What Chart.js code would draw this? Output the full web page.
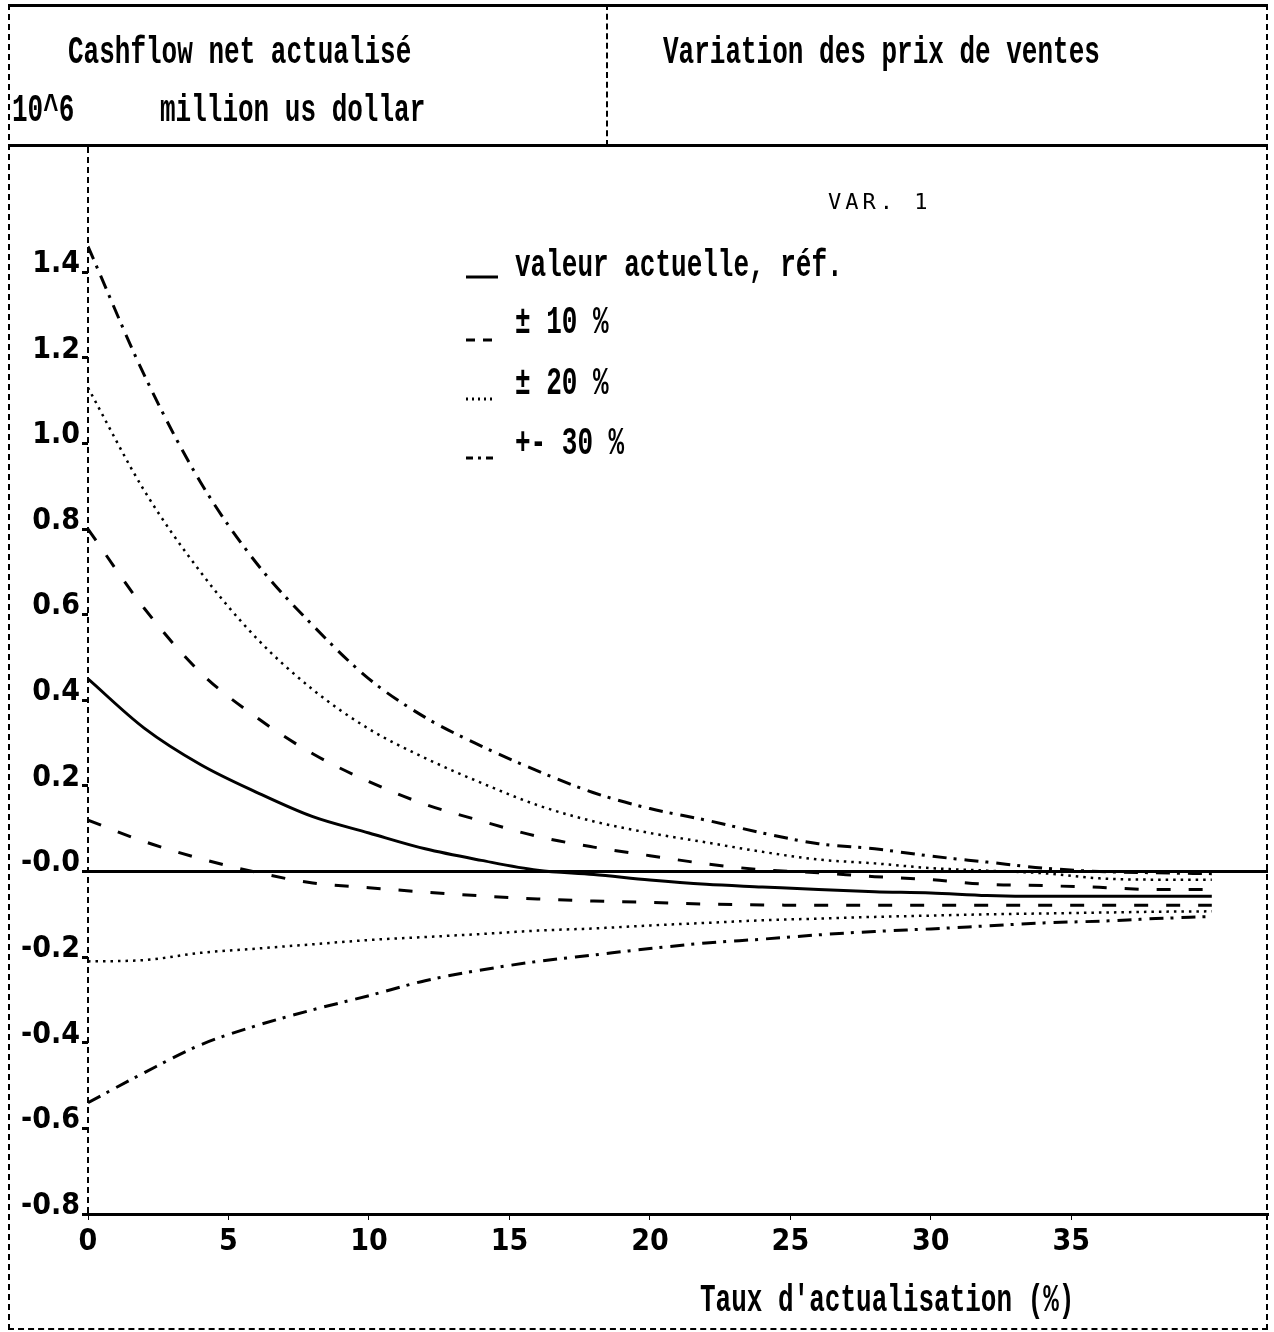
<!DOCTYPE html>
<html>
<head>
<meta charset="utf-8">
<script src="https://cdn.jsdelivr.net/npm/chart.js@4.4.1/dist/chart.umd.min.js"></script>
<style>
  body { margin: 0; background: #fff; }
  #wrap { position: relative; width: 1274px; height: 1332px; overflow: hidden; }
  #chart { position: absolute; left: 0; top: 0; }
  .ln { position: absolute; }
  .txt {
    position: absolute; white-space: pre; color: #000;
    font: bold 26px "Liberation Mono", "DejaVu Sans Mono", monospace;
    line-height: 26px; transform-origin: left center; transform: scaleY(1.5);
  }
  .sample { position: absolute; }
</style>
</head>
<body>
<div id="wrap">
  <canvas id="chart" width="1274" height="1332"></canvas>

  <!-- cadre -->
  <div class="ln" style="left:8px;top:4px;width:1260px;border-top:3px solid #000"></div>
  <div class="ln" style="left:8px;top:144px;width:1260px;border-top:3px solid #000"></div>
  <div class="ln" style="left:8px;top:4px;height:1326px;border-left:2px dashed #000"></div>
  <div class="ln" style="left:1266px;top:4px;height:1326px;border-left:2px dashed #000"></div>
  <div class="ln" style="left:606px;top:4px;height:142px;border-left:2px dashed #000"></div>
  <div class="ln" style="left:8px;top:1328px;width:1260px;border-top:2px dashed #000"></div>
  <!-- axe vertical en tirets -->
  <div class="ln" style="left:87px;top:147px;height:1066px;border-left:2px dashed #000"></div>

  <!-- en-tête -->
  <div class="txt" style="left:68px;top:39px">Cashflow net actualisé</div>
  <div class="txt" style="left:12px;top:97px">10^6</div>
  <div class="txt" style="left:160px;top:97px">million us dollar</div>
  <div class="txt" style="left:663px;top:39px">Variation des prix de ventes</div>

  <!-- légende -->
  <div class="txt" style="left:828px;top:189px;font:22px 'DejaVu Sans Mono',monospace;letter-spacing:4px;transform:none">VAR. 1</div>
  <svg class="sample" style="left:466px;top:266px" width="34" height="14"><line x1="0" y1="11" x2="32" y2="11" stroke="#000" stroke-width="3"/></svg>
  <div class="txt" style="left:515px;top:252px">valeur actuelle, réf.</div>
  <svg class="sample" style="left:466px;top:329px" width="34" height="14"><line x1="0" y1="11" x2="32" y2="11" stroke="#000" stroke-width="3" stroke-dasharray="9 8"/></svg>
  <div class="txt" style="left:515px;top:309px">± 10 %</div>
  <svg class="sample" style="left:466px;top:388px" width="34" height="14"><line x1="0" y1="11" x2="26" y2="11" stroke="#000" stroke-width="3" stroke-dasharray="2 4"/></svg>
  <div class="txt" style="left:515px;top:370px">± 20 %</div>
  <svg class="sample" style="left:466px;top:447px" width="34" height="14"><line x1="0" y1="11" x2="32" y2="11" stroke="#000" stroke-width="3" stroke-dasharray="7 5 3 5"/></svg>
  <div class="txt" style="left:515px;top:430px">+- 30 %</div>

  <!-- titre axe x -->
  <div class="txt" style="left:700px;top:1287px">Taux d'actualisation (%)</div>
</div>

<script>
// taux d'actualisation (%)
const rates = [0, 2, 4, 6, 8, 10, 12, 14, 16, 18, 20, 22, 24, 26, 28, 30, 32, 34, 36, 38, 40];

// cashflow net actualisé (10^6 us dollar)
const ref     = [0.45, 0.335, 0.25, 0.185, 0.128, 0.09, 0.053, 0.026, 0.003, -0.007, -0.02, -0.03, -0.036, -0.042, -0.047, -0.05, -0.056, -0.058, -0.058, -0.058, -0.058];
const plus10  = [0.8, 0.615, 0.465, 0.36, 0.275, 0.21, 0.157, 0.118, 0.082, 0.057, 0.037, 0.018, 0.004, -0.003, -0.012, -0.019, -0.03, -0.033, -0.037, -0.042, -0.042];
const minus10 = [0.12, 0.07, 0.03, -0.002, -0.027, -0.038, -0.048, -0.057, -0.064, -0.069, -0.072, -0.076, -0.078, -0.079, -0.079, -0.079, -0.079, -0.079, -0.079, -0.079, -0.079];
const plus20  = [1.13, 0.89, 0.70, 0.545, 0.425, 0.333, 0.265, 0.207, 0.155, 0.117, 0.09, 0.068, 0.046, 0.028, 0.019, 0.008, 0.002, -0.004, -0.016, -0.019, -0.019];
const minus20 = [-0.21, -0.207, -0.19, -0.18, -0.17, -0.16, -0.153, -0.146, -0.138, -0.133, -0.126, -0.12, -0.114, -0.11, -0.106, -0.103, -0.1, -0.098, -0.096, -0.094, -0.093];
const plus30  = [1.46, 1.16, 0.91, 0.72, 0.575, 0.45, 0.36, 0.293, 0.235, 0.184, 0.147, 0.12, 0.09, 0.065, 0.053, 0.036, 0.022, 0.008, 0.0, -0.003, -0.005];
const minus30 = [-0.54, -0.47, -0.405, -0.36, -0.323, -0.29, -0.255, -0.23, -0.21, -0.195, -0.18, -0.167, -0.158, -0.148, -0.14, -0.134, -0.127, -0.12, -0.116, -0.11, -0.105];

// graduations
const xTicks = [0, 5, 10, 15, 20, 25, 30, 35];
const yTicks = [-0.8, -0.6, -0.4, -0.2, 0, 0.2, 0.4, 0.6, 0.8, 1.0, 1.2, 1.4];

const tickFont = { family: "'Liberation Sans Narrow', 'DejaVu Sans Condensed', 'Liberation Mono', monospace", size: 30, weight: "bold" };

function serie(values, dash, width) {
    return {
        data: rates.map((r, i) => ({ x: r, y: values[i] })),
        borderColor: "#000",
        borderWidth: width,
        borderDash: dash,
        pointRadius: 0,
        fill: false,
        cubicInterpolationMode: "monotone"
    };
}

new Chart(document.getElementById("chart"), {
    type: "line",
    data: {
        datasets: [
            serie(ref, [], 3),
            serie(plus10, [14, 18], 3),
            serie(minus10, [14, 18], 3),
            serie(plus20, [2.5, 5], 2.5),
            serie(minus20, [2.5, 5], 2.5),
            serie(plus30, [14, 7, 3, 8], 3),
            serie(minus30, [14, 7, 3, 8], 3)
        ]
    },
    options: {
        responsive: false,
        animation: false,
        layout: { padding: { top: 148, right: 6, left: 0, bottom: 0 } },
        plugins: { legend: { display: false }, tooltip: { enabled: false } },
        scales: {
            x: {
                type: "linear",
                min: 0,
                max: 42,
                afterBuildTicks: s => { s.ticks = xTicks.map(v => ({ value: v })); },
                afterFit: s => { s.height = 118; },
                grid: { drawOnChartArea: false, color: "#000", tickLength: 6 },
                border: { color: "#000", width: 3 },
                ticks: { color: "#000", font: tickFont, padding: 4, maxRotation: 0 }
            },
            y: {
                min: -0.8,
                max: 1.69,
                afterBuildTicks: s => { s.ticks = yTicks.map(v => ({ value: v })); },
                afterFit: s => { s.width = 88; },
                grid: {
                    color: c => (c.tick && c.tick.value === 0 ? "#000" : "rgba(0,0,0,0)"),
                    tickColor: "#000",
                    lineWidth: 3,
                    tickLength: 6
                },
                border: { display: false },
                ticks: {
                    color: "#000",
                    font: tickFont,
                    padding: 2,
                    labelOffset: -8,
                    callback: v => (v === 0 ? "-0.0" : v.toFixed(1))
                }
            }
        }
    }
});
</script>
</body>
</html>
